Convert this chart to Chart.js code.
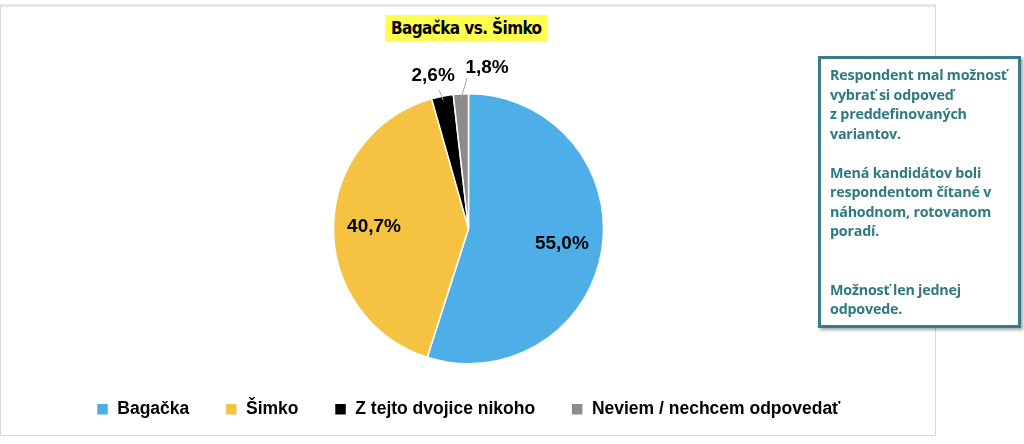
<!DOCTYPE html>
<html><head><meta charset="utf-8">
<script src="https://cdn.jsdelivr.net/npm/chart.js@4"></script>
<style>
body{margin:0;width:1024px;height:444px;background:#fff;position:relative;overflow:hidden;font-family:"Liberation Sans",Arial,sans-serif}
#frame{position:absolute;left:0;top:4px;width:936px;height:432px;border:1px solid #d9d9d9;border-top:3px solid #e6e6e6;box-sizing:border-box}
#title{position:absolute;left:385px;top:15px;height:27px;padding:0 6px;background:#ffff4d;font:bold 17px "DejaVu Sans Condensed","DejaVu Sans",sans-serif;font-stretch:condensed;line-height:27px;color:#000;letter-spacing:-0.6px}
#note{position:absolute;left:818px;top:56px;width:203px;height:272px;border:3px solid #3a7c84;box-sizing:border-box;background:#fff;box-shadow:2px 2px 3px rgba(0,0,0,.35);padding:6px 6px 0 9px;color:#2f7a80;font:bold 14.3px "Open Sans",sans-serif;line-height:19.5px;letter-spacing:-0.2px;white-space:nowrap}
#c{position:absolute;left:0;top:36px}
</style></head><body>
<div id="frame"></div>
<div id="title">Bagačka vs. Šimko</div>
<canvas id="c" width="937" height="394"></canvas>
<div id="note">Respondent mal možnosť<br>vybrať si odpoveď<br>z preddefinovaných<br>variantov.<br><br>Mená kandidátov boli<br>respondentom čítané v<br>náhodnom, rotovanom<br>poradí.<br><br><br>Možnosť len jednej<br>odpovede.</div>
<script>
const categories=["Bagačka","Šimko","Z tejto dvojice nikoho","Neviem / nechcem odpovedať"];
const values=[55.0,40.7,2.6,1.8];
const colors=["#4DAEE8","#F5C242","#000000","#8C8C8C"];
const labelPlugin={id:"lbl",afterDatasetsDraw(chart){
 const ctx=chart.ctx,meta=chart.getDatasetMeta(0);
 ctx.save();ctx.font="bold 19px 'Liberation Sans',Arial";ctx.fillStyle="#000";ctx.textAlign="center";ctx.textBaseline="middle";
 meta.data.forEach((a,i)=>{
  const mid=(a.startAngle+a.endAngle)/2,cx=a.x,cy=a.y,r=a.outerRadius;
  const t=values[i].toFixed(1).replace(".",",")+"%";
  if(values[i]>10){ctx.fillText(t,cx+Math.cos(mid)*r*0.7,cy+Math.sin(mid)*r*0.7);}
  else{
   const p1x=cx+Math.cos(mid)*(r-4),p1y=cy+Math.sin(mid)*(r-4);
   const off=i===2?{x:-10,y:-24,lx:-4,ly:-10}:{x:26,y:-30,lx:6,ly:-20};
   ctx.strokeStyle="#a6a6a6";ctx.lineWidth=1;ctx.beginPath();ctx.moveTo(p1x,p1y);ctx.lineTo(p1x+off.lx,p1y+off.ly);ctx.stroke();
   ctx.fillText(t,p1x+off.x,p1y+off.y);
  }
 });ctx.restore();}};
new Chart(document.getElementById("c"),{type:"pie",
 data:{labels:categories,datasets:[{data:values,backgroundColor:colors,borderColor:"#fff",borderWidth:1.5}]},
 options:{responsive:false,animation:false,layout:{padding:{top:57,bottom:2,left:0,right:0}},
  plugins:{tooltip:{enabled:false},legend:{position:"bottom",labels:{boxWidth:12,boxHeight:12,padding:36,color:"#000",font:{family:"'Liberation Sans',Arial",size:17.5,weight:"bold"}}}}},
 plugins:[labelPlugin]});
</script></body></html>
